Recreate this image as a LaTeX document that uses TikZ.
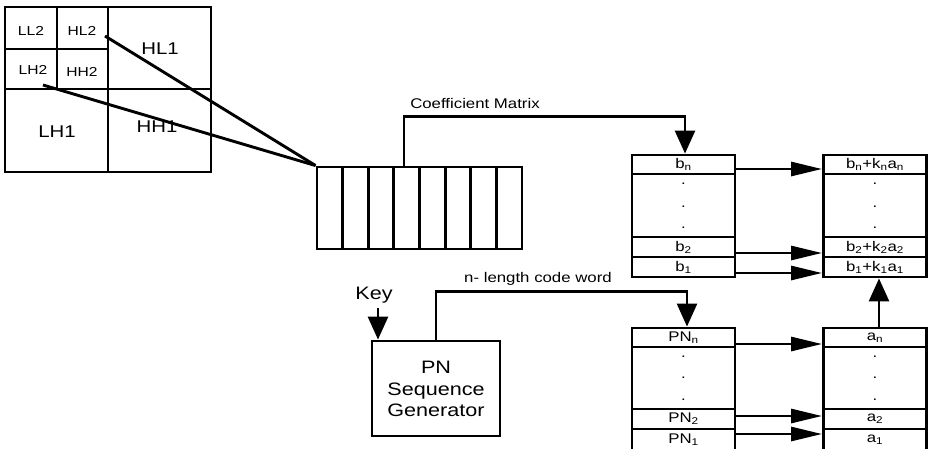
\documentclass[tikz,border=0pt]{standalone}
\usepackage{fontspec}
\setmainfont{Liberation Sans}[FakeStretch=1.2]
\usetikzlibrary{arrows.meta}
\begin{document}
\begin{tikzpicture}[x=1pt,y=-1pt,line width=2.9pt,
  harrow/.style={-{Triangle[length=31pt,width=14pt]},line width=2.8pt},
  varrow/.style={-{Triangle[length=23pt,width=20pt]},line width=2.8pt},
  cell/.style={draw,line width=2.9pt,minimum width=103pt,inner sep=0pt,font=\fontsize{14}{14}\selectfont},
  dot/.style={inner sep=0pt,font=\fontsize{14}{14}\selectfont},
  small/.style={inner sep=0pt,font=\fontsize{13}{13}\selectfont},
  big/.style={inner sep=0pt,font=\fontsize{17}{17}\selectfont},
  lbl/.style={inner sep=0pt,font=\fontsize{14}{14}\selectfont},
  genbox/.style={draw,line width=2.9pt,minimum width=128pt,minimum height=95pt,inner sep=0pt}]
\useasboundingbox (0,0) rectangle (928,448);
% wavelet sub-band grid
\draw (5,7) rectangle (211,172);
\draw (57,7) -- (57,89);
\draw (108,7) -- (108,172);
\draw (5,49) -- (108,49);
\draw (5,89) -- (211,89);
\node[small] (ll2) at (31,31) {LL2};
\node[small] (hl2) at (82,31) {HL2};
\node[small] (lh2) at (33,70) {LH2};
\node[small] (hh2) at (82,72) {HH2};
\node[big] (hl1) at (160,49) {HL1};
\node[big] (lh1) at (57,132) {LH1};
\node[big] (hh1) at (157,127) {HH1};
\coordinate (p1) at (105,36);
\coordinate (p2) at (43,85);
% register
\node[draw,minimum width=205pt,minimum height=82pt,inner sep=0pt] (reg) at (419.5,208) {};
\foreach \k in {1,...,7} \draw (317+25.625*\k,167) -- (317+25.625*\k,249);
\draw (p1) -- (reg.north west);
\draw (p2) -- (reg.north west);
% b column
\node[cell,minimum height=19pt] (bn) at (683.5,164.5) {b\textsubscript{n}};
\node[cell,minimum height=63pt] (bd) at (683.5,205.5) {};
\node[cell,minimum height=20pt] (b2) at (683.5,247) {b\textsubscript{2}};
\node[cell,minimum height=20pt] (b1) at (683.5,267) {b\textsubscript{1}};
\node[dot] at (683.5,184) {.};
\node[dot] at (683.5,207) {.};
\node[dot] at (683.5,228) {.};
% result column
\node[cell,minimum height=19pt] (rn) at (875,164.5) {b\textsubscript{n}+k\textsubscript{n}a\textsubscript{n}};
\node[cell,minimum height=63pt] (rd) at (875,205.5) {};
\node[cell,minimum height=20pt] (r2) at (875,247) {b\textsubscript{2}+k\textsubscript{2}a\textsubscript{2}};
\node[cell,minimum height=20pt] (r1) at (875,267) {b\textsubscript{1}+k\textsubscript{1}a\textsubscript{1}};
\node[dot] at (875,184) {.};
\node[dot] at (875,207) {.};
\node[dot] at (875,228) {.};
% PN column
\node[cell,minimum height=19pt] (pn) at (683.5,337.5) {PN\textsubscript{n}};
\node[cell,minimum height=62pt] (pd) at (683.5,378) {};
\node[cell,minimum height=20pt] (p2c) at (683.5,419) {PN\textsubscript{2}};
\node[cell,minimum height=22pt] (p1c) at (683.5,440) {PN\textsubscript{1}};
\node[dot] at (683.5,357) {.};
\node[dot] at (683.5,378) {.};
\node[dot] at (683.5,400) {.};
% a column
\node[cell,minimum height=19pt] (an) at (875,337.5) {a\textsubscript{n}};
\node[cell,minimum height=62pt] (ad) at (875,378) {};
\node[cell,minimum height=20pt] (a2) at (875,419) {a\textsubscript{2}};
\node[cell,minimum height=22pt] (a1) at (875,440) {a\textsubscript{1}};
\node[dot] at (875,357) {.};
\node[dot] at (875,378) {.};
\node[dot] at (875,400) {.};
% generator
\node[genbox] (gen) at (436,388.5) {};
\node[inner sep=0pt,align=center,font=\fontsize{18}{21.5}\selectfont] (gentext) at (436,389) {\fontsize{18}{21.5}\selectfont PN\\\fontsize{18}{21.5}\selectfont Sequence\\\fontsize{18}{21.5}\selectfont Generator};
\node[inner sep=0pt,font=\fontsize{18}{18}\selectfont] (key) at (374,295) {Key};
% labels
\node[lbl] (cm) at (475,103) {Coefficient Matrix};
\node[lbl] (nl) at (538,279) {n- length code word};
% connectors
\draw[varrow] ([xshift=-15.5pt]reg.north) -- ++(0,-49) -| ([xshift=1.5pt]bn.north);
\draw[varrow] (gen.north) -- ++(0,-48) -| ([xshift=3.5pt]pn.north);
\draw[varrow] ([xshift=4pt,yshift=-3pt]key.south) -- ([xshift=4pt]key.south |- gen.north);
\draw[harrow] ([yshift=-4.5pt]bn.east) -- ([yshift=-4.5pt]rn.west);
\draw[harrow] ([yshift=-6pt]b2.east) -- ([yshift=-6pt]r2.west);
\draw[harrow] ([yshift=-6pt]b1.east) -- ([yshift=-6pt]r1.west);
\draw[harrow] ([yshift=-6.5pt]pn.east) -- ([yshift=-6.5pt]an.west);
\draw[harrow] ([yshift=3pt]p2c.east) -- ([yshift=3pt]a2.west);
\draw[harrow] ([yshift=6pt]p1c.east) -- ([yshift=6pt]a1.west);
\draw[varrow] ([xshift=4pt]an.north) -- ([xshift=4pt]r1.south);
\end{tikzpicture}
\end{document}
